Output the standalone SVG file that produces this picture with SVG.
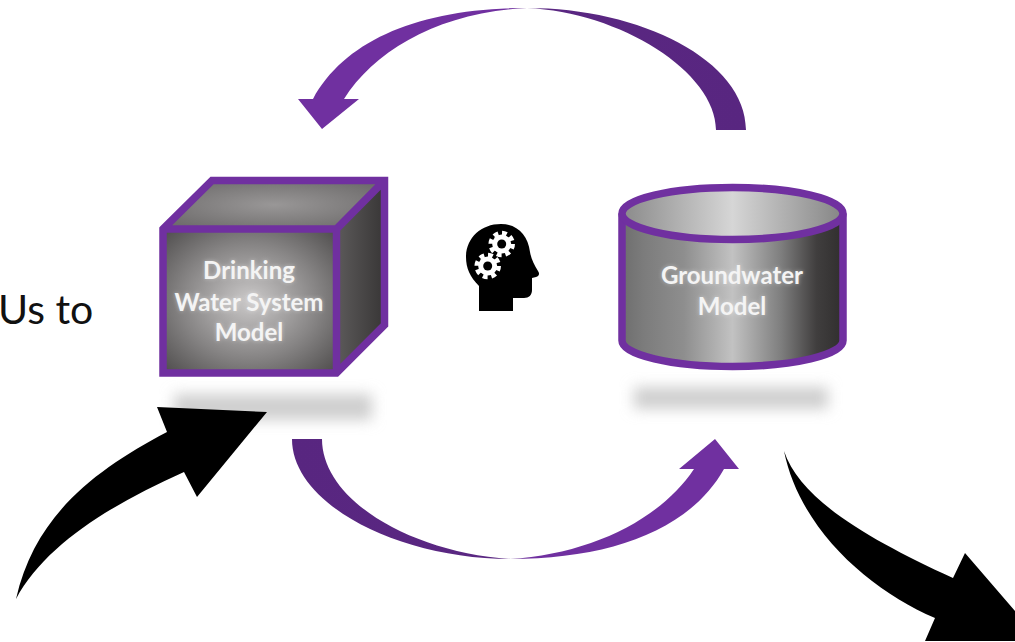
<svg xmlns="http://www.w3.org/2000/svg" width="1015" height="642" viewBox="0 0 1015 642">
<style>
.lbl{font-family:"Lato","Open Sans","Liberation Sans",sans-serif;font-weight:700;font-size:24px;fill:#f4f4f4;text-anchor:middle}
.glow{fill:#fff;filter:url(#glow);opacity:.4}
.edge{fill:none;stroke:#7030a0;stroke-width:7.5;stroke-linejoin:miter}
.shadow{fill:#cfcfcf;filter:url(#blur)}
.gear{fill:#fff}
.teeth{fill:none;stroke:#fff;stroke-width:4.500}
</style>
<defs>
<filter id="blur" x="-20%" y="-80%" width="140%" height="260%"><feGaussianBlur stdDeviation="7"/></filter>
<filter id="glow" x="-20%" y="-50%" width="140%" height="200%"><feGaussianBlur stdDeviation="2"/></filter>
<radialGradient id="front" cx="0.5" cy="0.5" r="0.72"><stop offset="0" stop-color="#cbc9c9"/><stop offset="0.55" stop-color="#868484"/><stop offset="1" stop-color="#4a4848"/></radialGradient>
<radialGradient id="top" cx="0.5" cy="0.5" r="0.6"><stop offset="0" stop-color="#999797"/><stop offset="1" stop-color="#6e6c6c"/></radialGradient>
<linearGradient id="side" x1="0" y1="0" x2="1" y2="0"><stop offset="0" stop-color="#5c5a5a"/><stop offset="1" stop-color="#383636"/></linearGradient>
<linearGradient id="body" x1="0" y1="0" x2="1" y2="0"><stop offset="0" stop-color="#6e6e6e"/><stop offset="0.1" stop-color="#7c7c7c"/><stop offset="0.28" stop-color="#8e8e8e"/><stop offset="0.5" stop-color="#c2c2c2"/><stop offset="0.72" stop-color="#7e7e7e"/><stop offset="0.88" stop-color="#403e3e"/><stop offset="1" stop-color="#302e2e"/></linearGradient>
<linearGradient id="lid" x1="0" y1="0" x2="1" y2="0"><stop offset="0" stop-color="#8a8a8a"/><stop offset="0.5" stop-color="#d6d6d6"/><stop offset="1" stop-color="#858585"/></linearGradient>
<linearGradient id="arcT" x1="298" y1="0" x2="746" y2="0" gradientUnits="userSpaceOnUse"><stop offset="0" stop-color="#7030a0"/><stop offset="0.48" stop-color="#7030a0"/><stop offset="0.52" stop-color="#5a2782"/><stop offset="1" stop-color="#582680"/></linearGradient>
<linearGradient id="arcB" x1="292" y1="0" x2="739" y2="0" gradientUnits="userSpaceOnUse"><stop offset="0" stop-color="#582680"/><stop offset="0.47" stop-color="#5a2782"/><stop offset="0.53" stop-color="#7030a0"/><stop offset="1" stop-color="#7030a0"/></linearGradient>
</defs>

<rect class="shadow" x="174" y="394" width="198" height="26"/>
<rect class="shadow" x="634" y="387" width="194" height="22"/>

<g id="connectors">
<path id="arc-top" fill="url(#arcT)" d="M746,130 C746,60 640,8 527,8 C420,8 345,40 313,99 L298,99 L322,129 L359,99 L344,99 C375,50 440,12 527,8 C620,12 716,72 716,130 Z"/>
<path id="arc-bottom" fill="url(#arcB)" d="M292,439 C292,505 400,559 510,559 C610,559 690,530 724,469 L739,469 L715,439 L679,469 L694,469 C660,520 590,554 510,559 C410,552 322,500 322,439 Z"/>
<path id="arrow-in" fill="#000" d="M16,599 C35,515 95,470 167,432 L157,407 L267,412 L197,497 L184,472 C110,505 45,545 16,599 Z"/>
<path id="arrow-out" fill="#000" d="M784,451 C800,500 870,540 953,578 L965,553 L1041,641 L925,641 L935,618 C870,590 800,530 784,451 Z"/>
</g>

<g id="drinking-water-system-model">
<polygon points="212,180.5 384.5,180.5 336.5,229 163,229" fill="url(#top)"/>
<polygon points="384.5,180.5 384.5,325 336.5,373 336.5,229" fill="url(#side)"/>
<rect x="163" y="229" width="173.500" height="144" fill="url(#front)"/>
<path class="edge" d="M163,229 L212,180.500 H384.500 V325 L336.500,373 H163 Z M163,229 H336.500 V373 M336.500,229 L384.500,180.500"/>
<text class="lbl glow" x="249" y="279">Drinking</text>
<text class="lbl glow" x="249" y="311">Water System</text>
<text class="lbl glow" x="249" y="341">Model</text>
<text class="lbl" x="249" y="279">Drinking</text>
<text class="lbl" x="249" y="311">Water System</text>
<text class="lbl" x="249" y="341">Model</text>
</g>

<g id="groundwater-model">
<path d="M622,213.500 V340.500 A110.500,26 0 0 0 843,340.500 V213.500 Z" fill="url(#body)"/>
<path class="edge" d="M622,213.500 V340.500 A110.500,26 0 0 0 843,340.500 V213.500"/>
<ellipse cx="732.500" cy="213.500" rx="110.500" ry="26" fill="url(#lid)" stroke="#7030a0" stroke-width="7.500"/>
<text class="lbl glow" x="732" y="284">Groundwater</text>
<text class="lbl glow" x="732" y="315">Model</text>
<text class="lbl" x="732" y="284">Groundwater</text>
<text class="lbl" x="732" y="315">Model</text>
</g>

<g id="head-icon">
<path fill="#000" d="M479,311 V286 C470,277 466,268 466,257 C466,238 481,224 501,224 C517,224 528,235 530,252 C531,258 534,265 538,271 C540,274 539,276 536,277 L532,278 V290 C532,295 529,298 524,298 H513 V311 Z"/>
<circle class="gear" cx="501.700" cy="244" r="9.500"/>
<circle class="teeth" cx="501.700" cy="244" r="11" stroke-dasharray="4.800 3.840"/>
<circle cx="501.700" cy="244" r="4.500" fill="#000"/>
<circle class="gear" cx="487.700" cy="266" r="9.500"/>
<circle class="teeth" cx="487.700" cy="266" r="11" stroke-dasharray="4.800 3.840"/>
<circle cx="487.700" cy="266" r="4.500" fill="#000"/>
</g>

<text id="clipped-label" x="-2" y="324" font-family="Lato,'Open Sans','Liberation Sans',sans-serif" font-size="41" fill="#111">Us to</text>
</svg>
